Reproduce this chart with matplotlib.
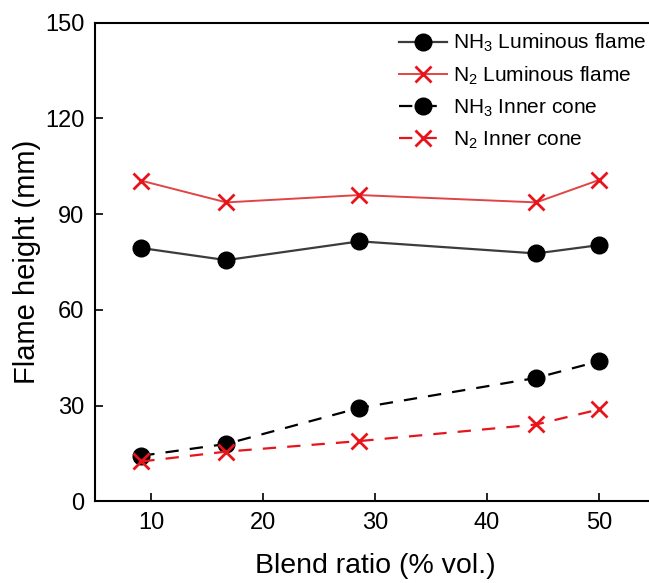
import numpy as np
import matplotlib
matplotlib.use('Agg')
import matplotlib.pyplot as plt

# === DỮ LIỆU ===
blend_ratio = [9.1, 16.7, 28.6, 44.4, 50.0]
nh3_luminous = [79.4, 75.6, 81.5, 77.7, 80.3]
n2_luminous = [100.5, 93.7, 96.0, 93.7, 100.7]
nh3_inner = [14.3, 18.0, 29.3, 38.7, 43.9]
n2_inner = [12.5, 15.6, 18.9, 24.1, 28.8]

labels = [r'NH$_3$ Luminous flame', r'N$_2$ Luminous flame',
          r'NH$_3$ Inner cone', r'N$_2$ Inner cone']

plt.rcParams['font.family'] = ['Liberation Sans', 'DejaVu Sans']
plt.rcParams['mathtext.fontset'] = 'custom'
plt.rcParams['mathtext.rm'] = 'Liberation Sans'
plt.rcParams['mathtext.it'] = 'Liberation Sans:italic'

fig = plt.figure(figsize=(6.49, 5.83), dpi=100)
ax = fig.add_axes([0.147, 0.14, 0.862, 0.821])

ax.plot(blend_ratio, nh3_luminous, '-o', color='#3c3c3c', lw=1.6,
        ms=12, mfc='black', mec='black', label=labels[0])
ax.plot(blend_ratio, n2_luminous, '-x', color='#e04545', lw=1.4,
        ms=11, mew=2, mec='#e8141c', label=labels[1])
ax.plot(blend_ratio, nh3_inner, '--o', color='black', lw=1.6,
        ms=12, dashes=(6, 5), label=labels[2])
ax.plot(blend_ratio, n2_inner, '--x', color='#e8141c', lw=1.6,
        ms=11, mew=2, dashes=(6, 5), label=labels[3])

ax.set_xlim(5, 55)
ax.set_ylim(0, 150)
ax.set_xticks([10, 20, 30, 40, 50])
ax.set_yticks([0, 30, 60, 90, 120, 150])
ax.tick_params(direction='in', length=6, width=1.2, labelsize=17,
               top=False, right=False, pad=8)
ax.spines['right'].set_visible(False)
for s in ax.spines.values():
    s.set_linewidth(1.5)

ax.set_xlabel('Blend ratio (% vol.)', fontsize=20.5, labelpad=13)
ax.set_ylabel('Flame height (mm)', fontsize=21, labelpad=3)

fig.legend(loc='upper left', bbox_to_anchor=(399 / 649, 0.945), frameon=False,
           fontsize=15, handlelength=2.3, handletextpad=0.3,
           labelspacing=0.5, borderaxespad=0, borderpad=0)

fig.savefig('out.png', dpi=100)
